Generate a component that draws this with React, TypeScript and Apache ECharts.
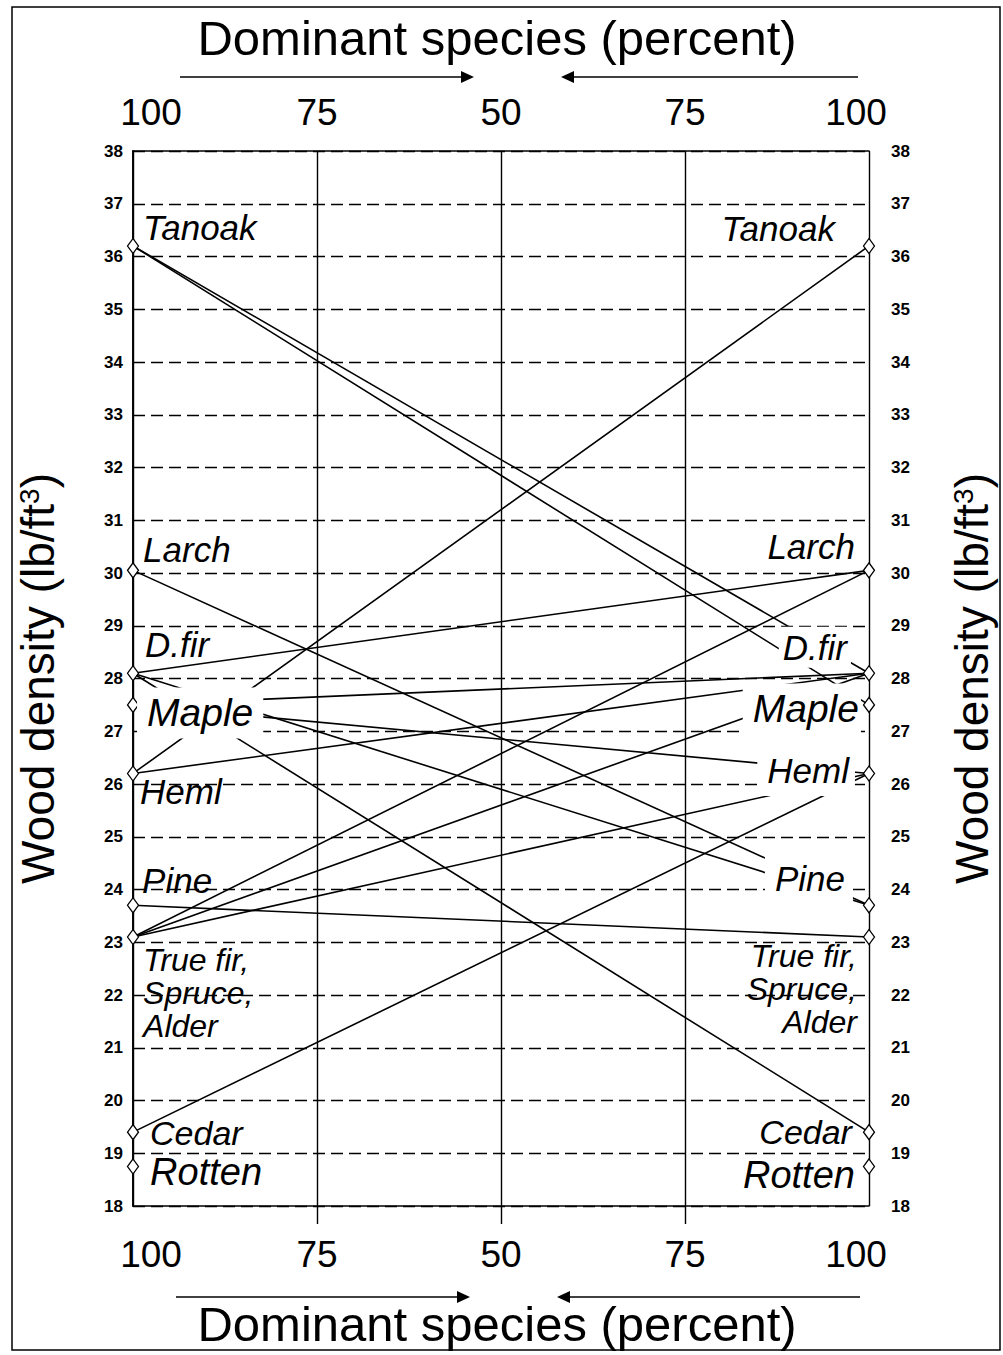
import React, { useEffect, useRef } from "react";
import * as echarts from "echarts";

// ---------- data ----------
const speciesKeys = ["Tanoak", "Larch", "D.fir", "Maple", "Heml", "Pine", "True fir", "Cedar", "Rotten"];
const speciesText = ["Tanoak", "Larch", "D.fir", "Maple", "Heml", "Pine", "True fir,\nSpruce,\nAlder", "Cedar", "Rotten"];
const densities = [36.2, 30.05, 28.1, 27.5, 26.2, 23.7, 23.1, 19.4, 18.75];

// mixture lines: dominant species on the left (100%) joined with the one on the right (100%)
const mixLeft = ["Tanoak", "Tanoak", "Larch", "D.fir", "D.fir", "D.fir", "Maple", "Maple", "Heml", "Heml", "Pine", "True fir", "True fir", "True fir", "Cedar"];
const mixRight = ["D.fir", "Maple", "Pine", "Larch", "Pine", "Cedar", "D.fir", "Heml", "Tanoak", "D.fir", "True fir", "Larch", "D.fir", "Heml", "Heml"];

const xTickValues = [0, 25, 50, 75, 100];
const xTickLabels = ["100", "75", "50", "75", "100"];
const yMin = 18;
const yMax = 38;

// ---------- layout of species labels (pixels, relative to the diamond) ----------
type Lay = { dx: number; dy: number; size?: number; pad?: number[]; bg?: boolean };
const leftLayout: Record<string, Lay> = {
  Tanoak: { dx: 10, dy: -18 },
  Larch: { dx: 10, dy: -21 },
  "D.fir": { dx: 12, dy: -29 },
  Maple: { dx: 4, dy: 8, size: 39, pad: [6, 10, 6, 10], bg: true },
  Heml: { dx: 7, dy: 18 },
  Pine: { dx: 9, dy: -25 },
  "True fir": { dx: 10, dy: 56 },
  Cedar: { dx: 17, dy: 1, size: 34 },
  Rotten: { dx: 17, dy: 6, size: 38 },
};
const rightLayout: Record<string, Lay> = {
  Tanoak: { dx: -34, dy: -17 },
  Larch: { dx: -14, dy: -24 },
  "D.fir": { dx: -18, dy: -26, pad: [3, 4, 3, 4], bg: true },
  Maple: { dx: -8, dy: 4, size: 39, pad: [6, 2, 6, 10], bg: true },
  Heml: { dx: -14, dy: -3, pad: [8, 6, 8, 10], bg: true },
  Pine: { dx: -16, dy: -27, pad: [6, 8, 6, 10], bg: true },
  "True fir": { dx: -12, dy: 52 },
  Cedar: { dx: -17, dy: 0, size: 34 },
  Rotten: { dx: -14, dy: 9, size: 38 },
};

const SANS = "'Liberation Sans', Arial, Helvetica, sans-serif";
const NARROW = "'Liberation Sans Narrow', 'Liberation Sans', Arial, sans-serif";

function densityOf(name: string) {
  return densities[speciesKeys.indexOf(name)];
}

export default function App() {
  const ref = useRef<HTMLDivElement>(null);

  useEffect(() => {
    if (!ref.current) return;
    const chart = echarts.init(ref.current, undefined, { renderer: "svg" });

    const lineSeries = mixLeft.map((l, i) => ({
      type: "line",
      xAxisIndex: 1,
      yAxisIndex: 0,
      data: [
        [0, densityOf(l)],
        [100, densityOf(mixRight[i])],
      ],
      symbol: "none",
      silent: true,
      z: 2,
      lineStyle: { color: "#000", width: 1.6 },
    }));

    const diamonds = [
      ...densities.map((d) => [0, d]),
      ...densities.map((d) => [100, d]),
    ];

    const makeLabels = (side: "left" | "right") =>
      speciesKeys.map((k, i) => {
        const lay = side === "left" ? leftLayout[k] : rightLayout[k];
        const multi = k === "True fir";
        return {
          value: [side === "left" ? 0 : 100, densities[i]],
          label: {
            show: true,
            formatter: speciesText[i],
            position: side === "left" ? "right" : "left",
            distance: 0,
            offset: [lay.dx, lay.dy],
            fontSize: lay.size || (multi ? 32 : 35),
            lineHeight: multi ? 33 : undefined,
            backgroundColor: lay.bg ? "#ffffff" : "transparent",
            padding: lay.pad || 0,
          },
        };
      });

    const labelSeriesBase = {
      type: "scatter",
      xAxisIndex: 1,
      yAxisIndex: 0,
      symbolSize: 0.1,
      silent: true,
      clip: false,
      z: 6,
      itemStyle: { color: "transparent", opacity: 1 },
      label: {
        color: "#000",
        opacity: 1,
        fontFamily: SANS,
        fontStyle: "italic",
      },
    };

    const yAxisCommon = {
      type: "value",
      min: yMin,
      max: yMax,
      interval: 1,
      axisLine: { show: true, lineStyle: { color: "#000", width: 1.6 } },
      axisTick: { show: false },
      name: "Wood density (lb/ft{sup|3})",
      nameLocation: "middle",
      nameRotate: 90,
      nameTextStyle: {
        color: "#000",
        fontSize: 46,
        fontFamily: SANS,
        rich: { sup: { fontSize: 28, fontFamily: SANS, color: "#000", padding: [0, 0, 18, 0] } },
      },
    };

    const xLabelFormatter = (v: number) => {
      const idx = xTickValues.indexOf(v);
      const t = idx >= 0 ? xTickLabels[idx] : "";
      if (v === 0) return "{l|" + t + "}";
      if (v === 100) return "{r|" + t + "}";
      return t;
    };
    const xLabelStyle = (margin: number) => ({
      formatter: xLabelFormatter,
      color: "#000",
      fontSize: 37,
      fontFamily: NARROW,
      margin,
      rich: {
        l: { fontSize: 37, fontFamily: NARROW, color: "#000", padding: [0, 0, 0, 36] },
        r: { fontSize: 37, fontFamily: NARROW, color: "#000", padding: [0, 26, 0, 0] },
      },
    });

    const option = {
      animation: false,
      backgroundColor: "#fff",
      grid: { left: 133, right: 131, top: 151, bottom: 149, containLabel: false },
      xAxis: [
        {
          type: "value",
          position: "top",
          min: 0,
          max: 100,
          interval: 25,
          axisLine: { show: true, lineStyle: { color: "#000", width: 1.6 } },
          axisTick: { show: false },
          axisLabel: xLabelStyle(20),
          splitLine: { show: true, lineStyle: { color: "#000", width: 1.4, type: "solid" } },
        },
        {
          type: "value",
          position: "bottom",
          min: 0,
          max: 100,
          interval: 25,
          axisLine: { show: true, lineStyle: { color: "#000", width: 1.6 } },
          axisTick: {
            show: true,
            inside: false,
            length: 18,
            customValues: [25, 50, 75],
            lineStyle: { color: "#000", width: 1.4 },
          },
          axisLabel: xLabelStyle(30),
          splitLine: { show: false },
        },
      ],
      yAxis: [
        {
          ...yAxisCommon,
          position: "left",
          nameGap: 72,
          axisLabel: { color: "#000", fontSize: 17, fontWeight: "bold", fontFamily: SANS, margin: 10 },
          splitLine: { show: true, lineStyle: { color: "#000", width: 1.3, type: [12, 6] } },
        },
        {
          ...yAxisCommon,
          position: "right",
          nameGap: 80,
          axisLabel: { color: "#000", fontSize: 17, fontWeight: "bold", fontFamily: SANS, margin: 22 },
          splitLine: { show: false },
        },
      ],
      series: [
        ...lineSeries,
        {
          type: "scatter",
          xAxisIndex: 1,
          yAxisIndex: 0,
          data: diamonds,
          symbol: "diamond",
          symbolSize: [11, 15],
          clip: false,
          silent: true,
          z: 4,
          itemStyle: { color: "#fff", borderColor: "#000", borderWidth: 1.3, opacity: 1 },
        },
        { ...labelSeriesBase, data: makeLabels("left") },
        { ...labelSeriesBase, data: makeLabels("right") },
      ],
      graphic: [
        {
          type: "rect",
          shape: { x: 12, y: 7, width: 988, height: 1343 },
          style: { fill: "none", stroke: "#000", lineWidth: 1.5 },
          silent: true,
        },
        {
          type: "text",
          x: 497,
          y: 38,
          style: {
            text: "Dominant species (percent)",
            fontSize: 49,
            fontFamily: SANS,
            fill: "#000",
            align: "center",
            verticalAlign: "middle",
          },
        },
        {
          type: "text",
          x: 497,
          y: 1324,
          style: {
            text: "Dominant species (percent)",
            fontSize: 49,
            fontFamily: SANS,
            fill: "#000",
            align: "center",
            verticalAlign: "middle",
          },
        },
        // top arrows
        { type: "line", shape: { x1: 180, y1: 77, x2: 464, y2: 77 }, style: { stroke: "#000", lineWidth: 1.6 } },
        { type: "polygon", shape: { points: [[474, 77], [461, 71], [461, 83]] }, style: { fill: "#000" } },
        { type: "line", shape: { x1: 572, y1: 77, x2: 858, y2: 77 }, style: { stroke: "#000", lineWidth: 1.6 } },
        { type: "polygon", shape: { points: [[561, 77], [574, 71], [574, 83]] }, style: { fill: "#000" } },
        // bottom arrows
        { type: "line", shape: { x1: 176, y1: 1297, x2: 460, y2: 1297 }, style: { stroke: "#000", lineWidth: 1.6 } },
        { type: "polygon", shape: { points: [[470, 1297], [457, 1291], [457, 1303]] }, style: { fill: "#000" } },
        { type: "line", shape: { x1: 568, y1: 1297, x2: 860, y2: 1297 }, style: { stroke: "#000", lineWidth: 1.6 } },
        { type: "polygon", shape: { points: [[557, 1297], [570, 1291], [570, 1303]] }, style: { fill: "#000" } },
      ],
    };

    chart.setOption(option as any);
    return () => chart.dispose();
  }, []);

  return (
    <div
      ref={ref}
      style={{ position: "absolute", left: 0, top: 0, width: 1003, height: 1355, background: "#fff" }}
    />
  );
}
